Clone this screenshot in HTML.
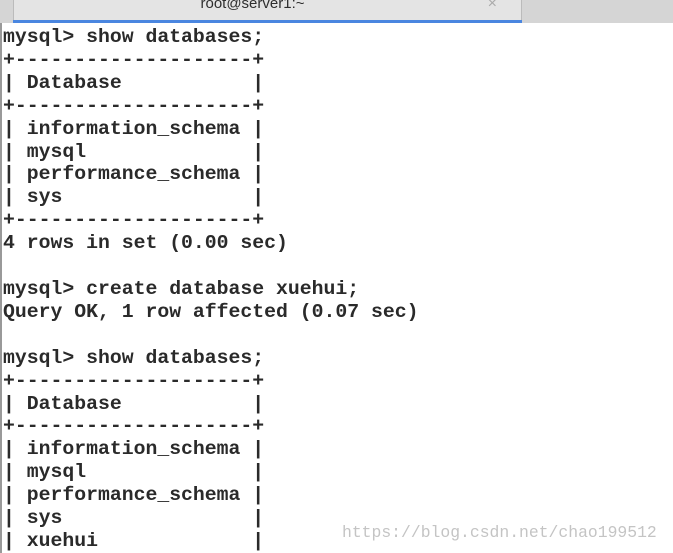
<!DOCTYPE html>
<html><head><style>
html,body{margin:0;padding:0;width:673px;height:553px;overflow:hidden;background:#fff;}
#bar{position:absolute;left:0;top:0;width:673px;height:23px;background:#d5d5d5;}
#tab{position:absolute;left:13px;top:0;width:507px;height:20px;background:#e4e4e4;border-left:1px solid #bbb;border-right:1px solid #bbb;}
#tab .t{position:absolute;left:0;right:30px;top:-5px;text-align:center;font:15px "Liberation Sans",sans-serif;color:#2e2e2e;}
#tab .x{position:absolute;right:24px;top:-5px;font:16px "Liberation Sans",sans-serif;color:#aaa;}
#blue{position:absolute;left:13px;top:20px;width:509px;height:3px;background:#4a86e0;}
#lb{position:absolute;left:0;top:23px;width:2px;height:530px;background:#999;}
pre{position:absolute;left:3px;top:26px;margin:0;font:bold 19.8px/22.9px "Liberation Mono",monospace;color:#2a2a2a;}
#wm{position:absolute;left:342px;top:523px;font:16.4px "Liberation Mono",monospace;color:#c4c4c4;}
</style></head><body>
<div id="bar"></div>
<div id="tab"><div class="t">root@server1:~</div><div class="x">×</div></div>
<div id="blue"></div>
<div id="lb"></div>
<pre>mysql&gt; show databases;
+--------------------+
| Database           |
+--------------------+
| information_schema |
| mysql              |
| performance_schema |
| sys                |
+--------------------+
4 rows in set (0.00 sec)

mysql&gt; create database xuehui;
Query OK, 1 row affected (0.07 sec)

mysql&gt; show databases;
+--------------------+
| Database           |
+--------------------+
| information_schema |
| mysql              |
| performance_schema |
| sys                |
| xuehui             |
</pre>
<div id="wm">https://blog.csdn.net/chao199512</div>
</body></html>
